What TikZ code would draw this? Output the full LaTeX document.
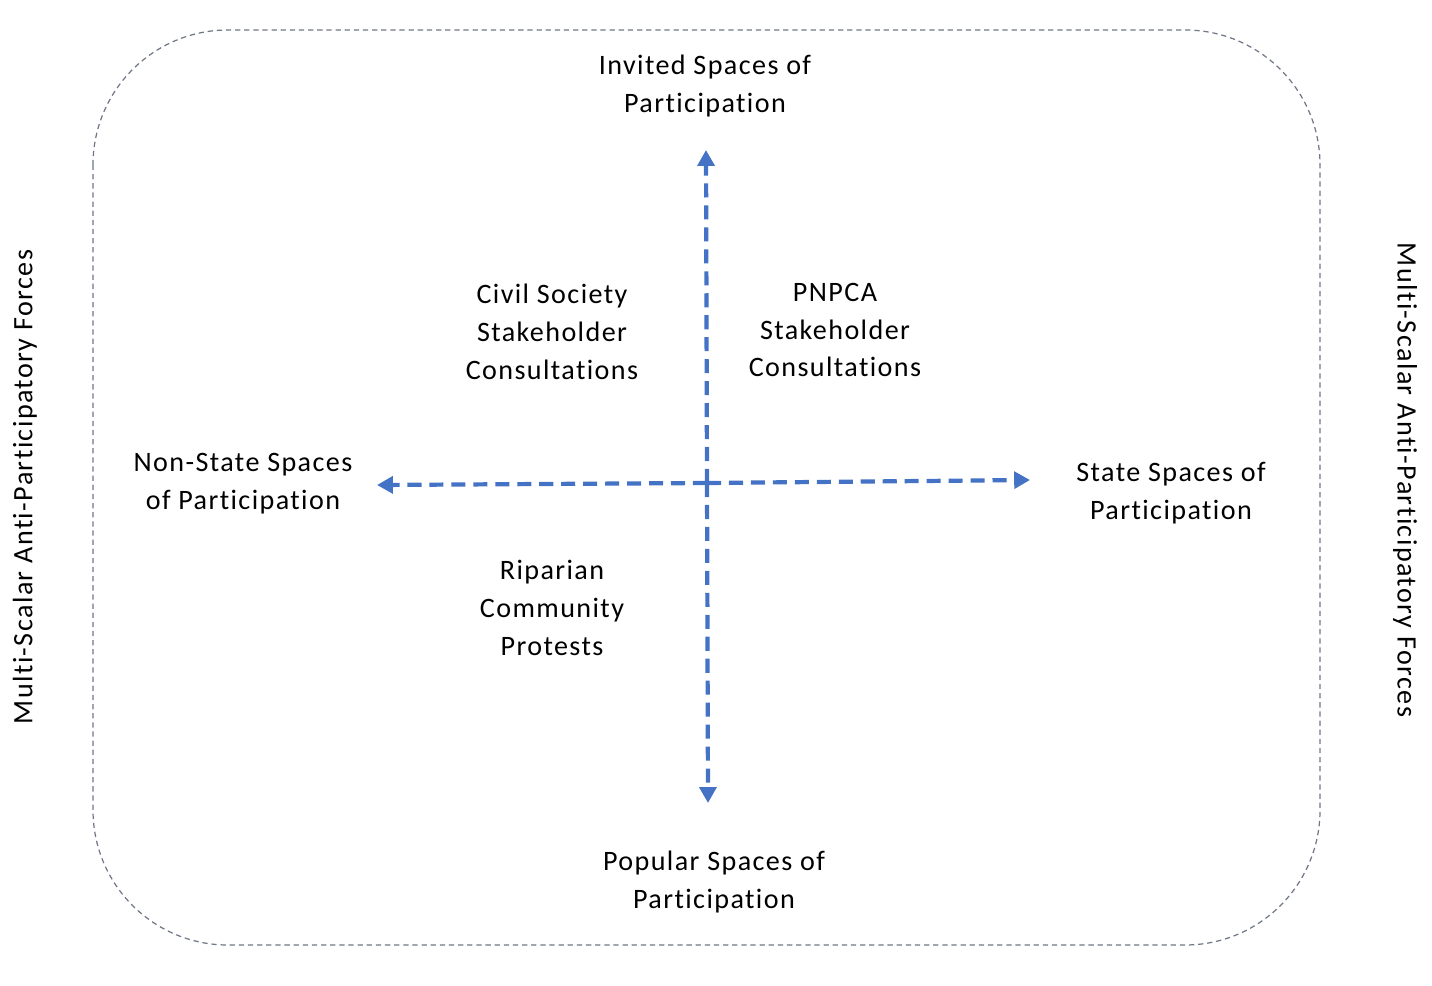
\documentclass[tikz,border=0pt]{standalone}
\usepackage{fontspec}
\setmainfont[Ligatures=NoCommon,LetterSpace=5]{Carlito}
\usetikzlibrary{arrows.meta}
\definecolor{axisblue}{HTML}{4472C4}
\definecolor{framegray}{HTML}{707786}
\begin{document}
\begin{tikzpicture}[x=0.02cm,y=-0.02cm,
  lbl/.style={align=center,font=\fontsize{16}{21.5}\selectfont,inner sep=0pt},
  axis/.style={draw=axisblue,line width=2.4pt,dash pattern=on 8pt off 4.5pt,
    -{Triangle[width=9.5pt,length=9pt]}},
  frame/.style={draw=framegray,line width=0.7pt,dash pattern=on 3pt off 2.2pt,rounded corners=2.7cm}]
\useasboundingbox (0,0) rectangle (1432,986);
\draw[frame] (93,30) rectangle (1320,945);
\coordinate (c) at (707,483);
\coordinate (top) at (706,150);
\coordinate (bot) at (708,803);
\coordinate (lft) at (377,485);
\coordinate (rgt) at (1030,480);
\draw[axis] (c) -- (top);
\draw[axis] (c) -- (bot);
\draw[axis] (c) -- (lft);
\draw[axis] (c) -- (rgt);
\node[lbl] (inv) at (705,86) {Invited Spaces of\\Participation};
\node[lbl] (civ) at (552,332) {Civil Society\\Stakeholder\\Consultations};
\node[lbl] (pn) at (835,330) {PNPCA\\Stakeholder\\Consultations};
\node[lbl] (ns) at (243,484) {Non-State Spaces\\of Participation};
\node[lbl] (st) at (1171,493) {State Spaces of\\Participation};
\node[lbl] (rip) at (552,608) {Riparian\\Community\\Protests};
\node[lbl] (pop) at (714,882) {Popular Spaces of\\Participation};
\node[lbl,rotate=90] (fl) at (25,487) {Multi-Scalar Anti-Participatory Forces};
\node[lbl,rotate=-90] (fr) at (1405,480) {Multi-Scalar Anti-Participatory Forces};
\end{tikzpicture}
\end{document}
